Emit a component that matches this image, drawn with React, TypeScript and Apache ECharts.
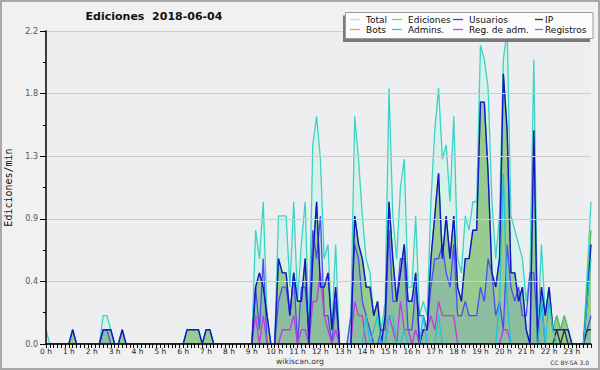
import React, { useEffect, useRef } from 'react';
import * as echarts from 'echarts';

const HOUR_LABELS = ['0 h','1 h','2 h','3 h','4 h','5 h','6 h','7 h','8 h','9 h','10 h','11 h','12 h','13 h','14 h','15 h','16 h','17 h','18 h','19 h','20 h','21 h','22 h','23 h'];
const MINUTES = ['00','10','20','30','40','50'];
const CATEGORIES = HOUR_LABELS.flatMap((h) => MINUTES.map((m) => h.replace(' h', '') + ':' + m));

// values in edits per minute, one value per 10 minutes (6 per hour)
const TOTAL = [
  0.1,0,0,0,0,0, 0,0.1,0,0,0,0, 0,0,0,0.2,0.2,0.1, 0,0,0.1,0,0,0,
  0,0,0,0,0,0, 0,0,0,0,0,0, 0,0.1,0.1,0.1,0.1,0, 0.1,0.1,0,0,0,0,
  0,0,0,0,0,0, 0,0.8,0.6,1.0,0.2,0, 0,0.9,0.9,0.9,0.4,1.0, 0.3,0.7,1.0,0.1,1.4,1.6,
  1.3,0.6,0.7,0.1,0.7,0, 0,0,0.2,1.6,1.3,0.9, 0.6,0.5,0.2,0.3,0.1,0.3, 1.8,0.9,0.6,1.1,1.3,0.4,
  0.4,0.9,0.2,0.3,0.2,1.0, 1.5,1.8,1.3,1.4,1.0,1.6, 0.6,0.5,0.9,0.8,1.0,1.0, 2.1,2.0,1.8,1.0,0.6,0.9,
  2.0,2.2,0.9,0.8,0.7,0.6, 0.3,0.5,2.0,0.1,0.7,0.2, 0.4,0.1,0.2,0.1,0.2,0.1, 0,0,0,0,0.5,1.0,
];
const EDICIONES = [
  0,0,0,0,0,0, 0,0.1,0,0,0,0, 0,0,0,0.1,0.1,0.1, 0,0,0.1,0,0,0,
  0,0,0,0,0,0, 0,0,0,0,0,0, 0,0.1,0.1,0.1,0.1,0, 0.1,0.1,0,0,0,0,
  0,0,0,0,0,0, 0,0.4,0.5,0.4,0.2,0, 0,0.6,0.5,0.5,0.2,0.5, 0.3,0.3,0.6,0,0.6,1.0,
  0.4,0.4,0.5,0.1,0.4,0, 0,0,0,0.9,0.7,0.6, 0.4,0.4,0.2,0.3,0,0.2, 1.0,0.6,0.3,0.5,0.7,0.3,
  0.3,0.5,0,0.1,0.1,0.6, 0.9,1.2,0.6,0.9,0.6,0.9, 0.4,0.3,0.6,0.6,0.8,0.8, 1.7,1.7,1.2,0.5,0.4,0.6,
  1.9,1.5,0.5,0.5,0.3,0.4, 0.1,0,1.5,0,0.4,0.2, 0.4,0.1,0.2,0.1,0.2,0.1, 0,0,0,0,0.4,0.8,
];
const USUARIOS = [
  0,0,0,0,0,0, 0,0.1,0,0,0,0, 0,0,0,0.1,0.1,0.1, 0,0,0.1,0,0,0,
  0,0,0,0,0,0, 0,0,0,0,0,0, 0,0.1,0.1,0.1,0.1,0, 0.1,0.1,0,0,0,0,
  0,0,0,0,0,0, 0,0.4,0.5,0.4,0.2,0, 0,0.6,0.5,0.5,0.2,0.5, 0.3,0.3,0.6,0,0.6,1.0,
  0.4,0.4,0.5,0.1,0.4,0, 0,0,0,0.9,0.7,0.6, 0.4,0.4,0.2,0.3,0,0.2, 1.0,0.6,0.3,0.5,0.7,0.3,
  0.3,0.5,0,0.1,0.1,0.6, 0.9,1.2,0.6,0.9,0.6,0.9, 0.4,0.3,0.6,0.6,0.8,0.8, 1.7,1.7,1.2,0.5,0.4,0.6,
  1.9,1.5,0.5,0.5,0.3,0.4, 0.1,0,1.5,0,0.4,0.2, 0.4,0.1,0.1,0.1,0.1,0.1, 0,0,0,0,0.3,0.7,
];
const IP = [
  0,0,0,0,0,0, 0,0,0,0,0,0, 0,0,0,0,0,0, 0,0,0,0,0,0,
  0,0,0,0,0,0, 0,0,0,0,0,0, 0,0,0,0,0,0, 0,0,0,0,0,0,
  0,0,0,0,0,0, 0,0,0,0,0,0, 0,0,0,0,0,0, 0,0,0,0,0,0,
  0,0,0,0,0,0, 0,0,0,0,0,0, 0,0,0,0,0,0, 0,0,0,0,0,0,
  0,0,0,0,0,0, 0,0,0,0,0,0, 0,0,0,0,0,0, 0,0,0,0,0,0,
  0,0,0,0,0,0, 0,0,0,0,0,0, 0,0,0.1,0,0.1,0, 0,0,0,0,0.1,0.1,
];
const BOTS = [
  0,0,0,0,0,0, 0,0,0,0,0,0, 0,0,0,0,0,0, 0,0,0,0,0,0,
  0,0,0,0,0,0, 0,0,0,0,0,0, 0,0,0,0,0,0, 0,0,0,0,0,0,
  0,0,0,0,0,0, 0,0,0,0,0,0, 0,0,0,0,0,0, 0,0,0,0,0,0,
  0,0,0,0,0,0, 0,0,0,0,0,0, 0,0,0,0,0,0, 0,0,0,0,0,0,
  0,0,0,0,0,0, 0,0,0,0,0,0, 0,0,0,0,0,0, 0,0,0,0,0,0,
  0,0,0,0,0,0, 0,0,0,0,0,0, 0,0,0,0,0,0, 0,0,0,0,0,0,
];
const ADMINS = [
  0,0,0,0,0,0, 0,0,0,0,0,0, 0,0,0,0,0,0, 0,0,0,0,0,0,
  0,0,0,0,0,0, 0,0,0,0,0,0, 0,0,0,0,0,0, 0,0,0,0,0,0,
  0,0,0,0,0,0, 0,0,0,0,0,0, 0,0,0,0,0,0, 0,0,0,0,0,0,
  0,0,0,0,0,0, 0,0,0,0,0,0, 0.2,0,0.1,0.2,0,0, 0.2,0.2,0,0,0.1,0,
  0,0,0,0.2,0,0, 0,0.2,0,0,0,0, 0,0,0,0,0,0, 0,0,0,0,0,0.3,
  1.2,0.3,0,0,0,0, 0,0,0,0,0.3,0, 0.3,0.1,0,0,0,0, 0,0,0,0,0.3,0.6,
];
const REG_ADM = [
  0,0,0,0,0,0, 0,0,0,0,0,0, 0,0,0,0,0,0, 0,0,0,0,0,0,
  0,0,0,0,0,0, 0,0,0,0,0,0, 0,0,0,0,0,0, 0,0,0,0,0,0,
  0,0,0,0,0,0, 0,0.2,0,0.2,0,0, 0,0,0.1,0.1,0.1,0.2, 0,0.1,0.1,0,0.3,0.3,
  0.5,0.2,0.1,0,0.1,0, 0,0,0,0.3,0.2,0.2, 0,0,0,0,0,0, 0.2,0.1,0,0.3,0.1,0.1,
  0,0.1,0,0.1,0.1,0.2, 0.1,0.3,0.2,0.2,0.2,0.2, 0,0,0,0,0,0, 0,0,0,0,0,0,
  0.1,0.1,0,0,0,0, 0,0,0,0,0,0, 0,0,0,0,0,0, 0,0,0,0,0,0,
];
const REGISTROS = [
  0,0,0,0,0,0, 0,0,0,0,0,0, 0,0,0,0.1,0.1,0, 0,0,0,0,0,0,
  0,0,0,0,0,0, 0,0,0,0,0,0, 0,0,0,0,0,0, 0,0,0,0,0,0,
  0,0,0,0,0,0, 0,0.4,0.1,0.6,0,0, 0,0.3,0.4,0.4,0.2,0.5, 0,0.4,0.4,0.1,0.8,0.6,
  0.9,0.2,0.2,0,0.3,0, 0,0,0.2,0.7,0.6,0.3, 0.2,0.1,0,0,0.1,0.1, 0.8,0.3,0.3,0.6,0.6,0.1,
  0.1,0.4,0.2,0.2,0.1,0.4, 0.6,0.6,0.7,0.5,0.4,0.7, 0.2,0.2,0.3,0.2,0.2,0.2, 0.4,0.3,0.6,0.5,0.2,0.3,
  0.1,0.7,0.4,0.3,0.4,0.2, 0.2,0.5,0.5,0.1,0.3,0, 0,0,0,0,0,0, 0,0,0,0,0.1,0.2,
];

const Y_MAX = 2.2;
const Y_STEP = 0.44;

const LEGEND_NAMES = ['Total', 'Ediciones', 'Usuarios', 'IP', 'Bots', 'Admins.', 'Reg. de adm.', 'Registros'];
const LEGEND_COLORS = ['#a8e6de', '#86d086', '#4444e0', '#333333', '#ff9a30', '#2ec8e0', '#c848e8', '#7474f0'];

const FONT = '"DejaVu Sans", Verdana, sans-serif';
const MONO = '"DejaVu Sans Mono", monospace';

export default function App() {
  const ref = useRef<HTMLDivElement>(null);

  useEffect(() => {
    document.body.style.margin = '0';
    const chart = echarts.init(ref.current as HTMLDivElement, null, { renderer: 'svg' });

    const line = (name: string, data: number[], color: string, width: number, z: number, area?: any) => ({
      name,
      type: 'line',
      data,
      symbol: 'none',
      showSymbol: false,
      silent: true,
      z,
      lineStyle: { color, width },
      itemStyle: { color },
      areaStyle: area,
      emphasis: { disabled: true },
    });

    const colX = [350, 392, 453, 535];
    const textX = [366, 408, 469, 545];
    const rowY = [19.5, 29.5];
    const legendEls: any[] = [
      { type: 'rect', z: 50, shape: { x: 343, y: 15.5, width: 247, height: 26.5 }, style: { fill: '#7a7a7a' } },
      { type: 'rect', z: 51, shape: { x: 345.5, y: 12.5, width: 247.5, height: 26 }, style: { fill: '#fcfcfc', stroke: '#9c9c9c', lineWidth: 1 } },
    ];
    LEGEND_NAMES.forEach((n, k) => {
      const c = k % 4;
      const r = Math.floor(k / 4);
      legendEls.push({
        type: 'line', z: 52,
        shape: { x1: colX[c], y1: rowY[r], x2: colX[c] + (c === 3 ? 8 : 10), y2: rowY[r] },
        style: { stroke: LEGEND_COLORS[k], lineWidth: 1.3 },
      });
      legendEls.push({
        type: 'text', z: 52, x: textX[c], y: rowY[r],
        style: { text: n, font: `9px ${FONT}`, fill: '#111', textAlign: 'left', textVerticalAlign: 'middle' },
      });
    });

    chart.setOption({
      animation: false,
      backgroundColor: '#f1f1f1',
      grid: {
        left: 46, right: 9, top: 31, bottom: 26,
        show: true, backgroundColor: '#edeef0', borderWidth: 0,
        containLabel: false, outerBoundsMode: 'none',
      },
      xAxis: {
        type: 'category',
        data: CATEGORIES,
        boundaryGap: false,
        z: 10,
        axisLine: { show: true, lineStyle: { color: '#000', width: 1.5 } },
        axisTick: { show: true, interval: 0, length: 4, lineStyle: { color: '#000', width: 1 } },
        axisLabel: {
          interval: 5,
          margin: 3,
          fontSize: 7.5,
          fontFamily: FONT,
          color: '#222',
          formatter: (_v: string, i: number) => HOUR_LABELS[Math.floor(i / 6)],
        },
        splitLine: { show: false },
      },
      yAxis: {
        type: 'value',
        min: 0,
        max: Y_MAX,
        interval: Y_STEP,
        z: 10,
        name: 'Ediciones/min',
        nameLocation: 'middle',
        nameRotate: 90,
        nameGap: 33,
        nameTextStyle: { fontSize: 10, fontFamily: MONO, color: '#111' },
        axisLine: { show: true, lineStyle: { color: '#000', width: 1.5 } },
        axisTick: { show: true, length: 6, lineStyle: { color: '#000' } },
        minorTick: { show: true, splitNumber: 2, length: 3, lineStyle: { color: '#000' } },
        axisLabel: {
          margin: 8,
          fontSize: 8,
          fontFamily: FONT,
          color: '#555',
          formatter: (v: number) => v.toFixed(1),
        },
        splitLine: { show: true, lineStyle: { color: '#cdcdcd', width: 1 } },
      },
      series: [
        line('Total', TOTAL, '#3dd3c4', 1.3, 2, { color: '#d7f0ea', opacity: 1 }),
        line('Ediciones', EDICIONES, '#58bd58', 1.3, 3, { color: '#97cb8f', opacity: 1 }),
        line('Registros', REGISTROS, '#4c4cf0', 1.3, 4, { color: 'rgba(88,133,224,0.27)' }),
        line('Bots', BOTS, '#ff9a30', 1.3, 4),
        line('Reg. de adm.', REG_ADM, '#c03ce0', 1.3, 5),
        line('IP', IP, '#303030', 1.3, 5),
        line('Usuarios', USUARIOS, '#1414c8', 1.4, 6),
        line('Admins.', ADMINS, '#22c2dc', 1.3, 7),
      ],
      graphic: [
        { type: 'rect', z: 100, silent: true, shape: { x: 1, y: 1, width: 598, height: 368 }, style: { fill: 'none', stroke: '#a9a9a9', lineWidth: 2 } },
        { type: 'text', x: 154, y: 16, style: { text: 'Ediciones  2018-06-04', font: `bold 11px ${FONT}`, fill: '#111', textAlign: 'center', textVerticalAlign: 'middle' } },
        { type: 'text', x: 300, y: 361, style: { text: 'wikiscan.org', font: `7.7px ${FONT}`, fill: '#333', textAlign: 'center', textVerticalAlign: 'middle' } },
        { type: 'text', x: 589, y: 362, style: { text: 'CC BY-SA 3.0', font: `6px ${FONT}`, fill: '#333', textAlign: 'right', textVerticalAlign: 'middle' } },
        ...legendEls,
      ],
    });

    return () => chart.dispose();
  }, []);

  return <div ref={ref} style={{ width: 600, height: 370 }} />;
}
